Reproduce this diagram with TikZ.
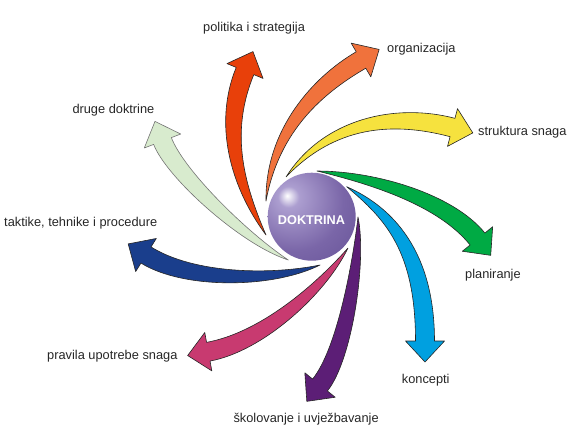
\documentclass[tikz,border=0pt]{standalone}
\usepackage{fontspec}
\setmainfont{Liberation Sans}
\usetikzlibrary{calc}

\definecolor{arRed}{RGB}{232,64,10}
\definecolor{arOrange}{RGB}{240,114,60}
\definecolor{arYellow}{RGB}{246,226,62}
\definecolor{arGreen}{RGB}{0,170,68}
\definecolor{arBlue}{RGB}{0,160,224}
\definecolor{arPurple}{RGB}{92,30,118}
\definecolor{arPink}{RGB}{200,58,112}
\definecolor{arNavy}{RGB}{26,62,140}
\definecolor{arPale}{RGB}{216,235,206}
\definecolor{orbA}{RGB}{172,158,208}
\definecolor{orbB}{RGB}{122,102,168}
\definecolor{orbC}{RGB}{90,70,140}
\pgfdeclareradialshading{orb}{\pgfpoint{-14bp}{12bp}}{%
  color(0bp)=(white); color(6bp)=(orbA); color(28bp)=(orbB);
  color(60bp)=(orbC); color(100bp)=(orbC)}

\def\tailw{7pt}
\def\shaftw{9.5pt}
\def\headw{19.5pt}
\def\headlen{21pt}
% #1 colour, #2 tail, #3 first control, #4 second control, #5 neck
\newcommand{\swirl}[5]{%
  \filldraw[fill=#1, swirlline] (#2)
    .. controls ($(#3)!\tailw!90:(#2)$) and ($(#4)!\shaftw!-90:(#5)$) .. ($(#5)!\shaftw!90:(#4)$)
    -- ($(#5)!\headw!90:(#4)$) -- ($(#5)!-\headlen!(#4)$) -- ($(#5)!\headw!-90:(#4)$)
    -- ($(#5)!\shaftw!-90:(#4)$)
    .. controls ($(#4)!\shaftw!90:(#5)$) and ($(#3)!\tailw!-90:(#2)$) .. (#2) -- cycle;}

\tikzset{
  swirlline/.style={draw=black!85, line width=0.6pt, line join=round},
  lbl/.style={anchor=base west, inner sep=0pt, text=black!85,
    font=\fontsize{12.8}{15}\selectfont},
}

\begin{document}
\begin{tikzpicture}[x=1pt,y=-1pt]
  \useasboundingbox (0,0) rectangle (580,440);

  % arrows: name / colour / tail / control / control / neck
  \foreach \k/\col/\t/\ca/\cb/\n in {
      pol/arRed/{266,235}/{236,183}/{222,127}/{245,71},
      org/arOrange/{266,201}/{272,130}/{318,85}/{361,60},
      str/arYellow/{286,177}/{329,122}/{394,112}/{452.5,127.5},
      pla/arGreen/{317,171}/{375,178}/{446,200}/{477.5,239},
      kon/arBlue/{346.7,186.7}/{389,213}/{425,251}/{425,341},
      sko/arPurple/{358,217}/{360,260}/{345,354}/{320,385},
      pra/arPink/{348,248}/{320.5,289.5}/{262,341.8}/{208.3,351.7},
      tak/arNavy/{320,265}/{271,282}/{188.5,281.5}/{146,255}} {
    \coordinate (\k-tail) at (\t);
    \coordinate (\k-neck) at (\n);
    \swirl{\col}{\k-tail}{\ca}{\cb}{\k-neck}
  }
  \begin{scope}[swirlline/.append style={draw=black!55}]
    \coordinate (dru-tail) at (288.3,260);
    \coordinate (dru-neck) at (162.5,141);
    \swirl{arPale}{dru-tail}{243,238}{175,173.6}{dru-neck}
  \end{scope}

  % centre ball
  \shade[shading=orb] (311.7,216.7) circle[radius=44];
  \node[font=\fontsize{12.7}{15}\selectfont\bfseries, text=white, anchor=base, inner sep=0pt]
    (doktrina) at (311.5,224) {DOKTRINA};

  % labels
  \node[lbl] (politika) at (203,31.7) {politika i strategija};
  \node[lbl] (organizacija) at (387,52.5) {organizacija};
  \node[lbl] (struktura) at (478,135) {struktura snaga};
  \node[lbl] (planiranje) at (465,278.3) {planiranje};
  \node[lbl] (koncepti) at (401.7,383.3) {koncepti};
  \node[lbl] (skolovanje) at (233.3,422.7) {školovanje i uvježbavanje};
  \node[lbl] (pravila) at (47,359.3) {pravila upotrebe snaga};
  \node[lbl] (taktike) at (4,226.7) {taktike, tehnike i procedure};
  \node[lbl] (druge) at (72.3,113.3) {druge doktrine};
\end{tikzpicture}
\end{document}
